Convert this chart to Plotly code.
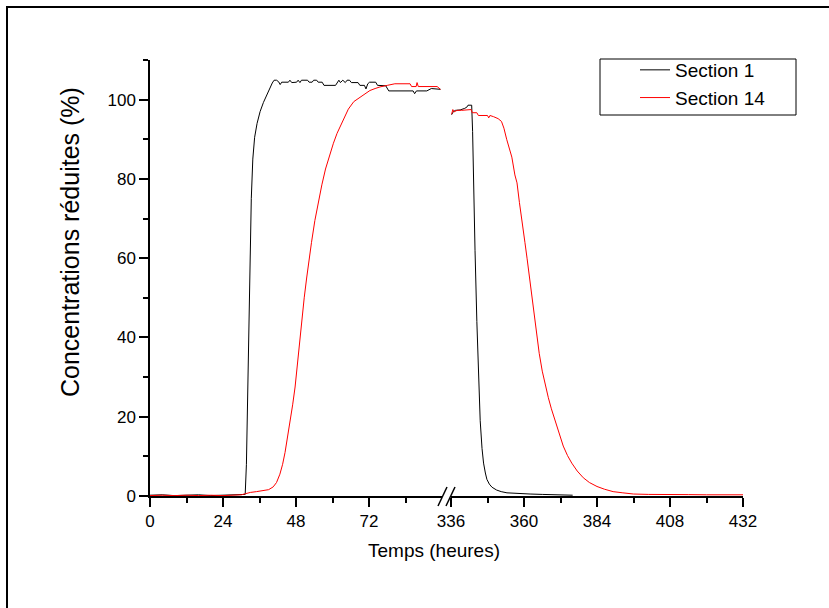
import plotly.graph_objects as go

# ---------------- data (hours, reduced concentration %) ----------------
s1_left_t = [0, 4, 8, 12, 16, 20, 24, 28, 30, 31.3,
             31.7, 32.1, 32.5, 32.9, 33.3, 33.8, 34.4, 35.2, 36.2, 37.3,
             38.2, 38.8, 39.5, 40.2, 40.8, 41.6, 42.3, 42.8, 43.3, 45.5,
             46.0, 46.6, 48.2, 48.7, 49.3, 49.8, 51.8, 52.3, 53.3, 53.8,
             54.8, 55.3, 56.6, 57.2, 61.0, 61.6, 62.1, 62.6, 63.4, 64.2,
             64.8, 65.6, 66.2, 68.4, 69.0, 70.5, 71.0, 71.6, 72.2, 74.2,
             74.8, 77.5, 78.5, 86.5, 87.0, 87.6, 91.0, 92.5, 95.5]
s1_left_v = [0.2, 0.3, 0.1, 0.2, 0.3, 0.1, 0.2, 0.3, 0.2, 0.4,
             8, 25, 45, 62, 75, 85, 90.5, 94, 97, 99.3,
             100.8, 102.2, 103.2, 104.2, 104.9, 104.9, 104.5, 103.8, 104.4, 104.4,
             104.9, 104.3, 104.4, 104.9, 104.3, 104.9, 104.9, 104.4, 104.4, 104.9,
             104.9, 104.4, 104.4, 103.6, 103.6, 104.3, 104.9, 104.3, 104.9, 104.3,
             104.9, 104.9, 104.3, 104.3, 103.6, 103.6, 102.7, 104.0, 104.4, 104.4,
             103.6, 103.5, 102.2, 102.2, 101.5, 102.2, 102.2, 102.8, 102.6]

s1_right_t = [336.2, 336.8, 337.5, 339.0, 340.5, 341.2, 341.6, 342.8, 343.1, 343.4,
              343.9, 344.5, 345.0, 345.6, 346.2, 346.7, 347.3, 347.8, 348.6, 349.5,
              351.0, 352.5, 354.4, 358.0, 362.0, 366.0, 370.0, 376.0]
s1_right_v = [96.2, 97.0, 97.3, 97.4, 97.8, 98.1, 98.6, 98.6, 92, 78,
              62, 44, 31, 19, 12, 8.3, 5.8, 4.2, 3.0, 2.2,
              1.5, 1.1, 0.8, 0.6, 0.5, 0.4, 0.3, 0.2]

s14_left_t = [0, 4, 8, 12, 16, 20, 24, 28, 30, 31.5,
              33, 35, 37, 39, 40.5, 41.6, 42.7, 43.6, 44.4, 45.2,
              46.0, 46.9, 47.7, 48.8, 49.9, 50.7, 51.5, 52.3, 53.1, 54.2,
              55.3, 56.5, 57.7, 59.0, 60.3, 61.5, 62.5, 63.8, 65.2, 67.0,
              69.0, 70.5, 72.3, 74.0, 75.6, 78.0, 80.5, 85.5, 86.0, 87.5,
              87.8, 88.2, 94.4, 95.5]
s14_left_v = [0.1, 0.2, 0.1, 0.2, 0.1, 0.2, 0.1, 0.2, 0.3, 0.6,
              0.9, 1.1, 1.3, 1.6, 2.3, 3.4, 5.5, 8, 11, 14.5,
              18.5, 23, 27.5, 36, 44.5, 50, 55, 60, 64, 69.5,
              74, 78.5, 82.5, 86, 89, 91.5, 93.2, 95.5, 97.6, 99.5,
              100.5, 101.3, 102.3, 102.8, 103.2, 103.6, 104.0, 104.0, 103.3, 103.3,
              104.3, 103.3, 103.3, 102.6]

s14_right_t = [336.2, 336.6, 337.0, 338.0, 339.5, 341.7, 342.6, 343.0, 344.5, 345.0,
               348.0, 348.4, 348.8, 350.0, 351.5, 352.6, 353.4, 354.3, 355.2, 356.0,
               357.0, 357.7, 358.5, 359.3, 360.3, 361.0, 361.8, 362.5, 363.3, 364.1,
               365.0, 366.0, 367.0, 368.0, 369.0, 370.2, 371.5, 372.9, 374.3, 375.7,
               377.5, 379.5, 381.5, 384.0, 386.5, 389.3, 392.5, 396.0, 401.0, 407.0,
               414.0, 420.0, 426.0, 432.0]
s14_right_v = [96.3, 97.5, 96.9, 97.3, 97.3, 97.5, 97.5, 96.7, 96.7, 96.0,
               96.0, 95.4, 96.0, 95.7, 95.2, 94.5, 92.8, 90, 87.3, 85.5,
               81, 79, 74, 70, 64, 60, 55, 50.5, 45.5, 41,
               36, 31.5, 28, 24.8, 22, 19, 15.8, 12.6, 10.2, 8.3,
               6.3, 4.6, 3.4, 2.4, 1.7, 1.1, 0.8, 0.5, 0.4, 0.3,
               0.35, 0.3, 0.35, 0.3]

x_left_ticks = [0, 24, 48, 72]
x_left_minor = [12, 36, 60, 84]
x_right_ticks = [336, 360, 384, 408, 432]
x_right_minor = [348, 372, 396, 420]
y_ticks = [0, 20, 40, 60, 80, 100]
y_minor = [10, 30, 50, 70, 90, 110]

series_names = ["Section 1", "Section 14"]
series_colors = ["#000000", "#FF0000"]

# ---------------- geometry (pixels) ----------------
W, H = 829, 608
L, R, T, B = 150, 86, 60, 112
PW, PH = W - L - R, H - T - B


def px(x):
    return (x - L) / PW


def py(y):
    return (H - B - y) / PH


FONT = "Arial, Liberation Sans, sans-serif"

fig = go.Figure()
segments = [
    (s1_left_t, s1_left_v, "x", 0, True),
    (s1_right_t, s1_right_v, "x2", 0, False),
    (s14_left_t, s14_left_v, "x", 1, True),
    (s14_right_t, s14_right_v, "x2", 1, False),
]
for t, v, xa, i, show in segments:
    fig.add_trace(go.Scatter(
        x=t, y=v, xaxis=xa, yaxis="y", mode="lines",
        line=dict(color=series_colors[i], width=1),
        name=series_names[i], legendgroup=series_names[i], showlegend=show,
    ))

axis_common = dict(
    showline=True, linecolor="black", linewidth=1.5,
    ticks="outside", ticklen=9, tickwidth=1.5, tickcolor="black",
    showgrid=False, zeroline=False,
    tickfont=dict(family=FONT, size=17, color="black"),
)

fig.update_layout(
    width=W, height=H,
    margin=dict(l=L, r=R, t=T, b=B, autoexpand=False),
    paper_bgcolor="white", plot_bgcolor="white",
    font=dict(family=FONT, color="black"),
    xaxis=dict(domain=[0, px(442)], range=[0, 96], anchor="y",
               tickmode="array", tickvals=x_left_ticks,
               minor=dict(tickmode="array", tickvals=x_left_minor, ticks="outside",
                          ticklen=5, tickwidth=1.5, tickcolor="black"),
               **axis_common),
    xaxis2=dict(domain=[px(451), 1], range=[336, 432], anchor="y",
                tickmode="array", tickvals=x_right_ticks,
                minor=dict(tickmode="array", tickvals=x_right_minor, ticks="outside",
                           ticklen=5, tickwidth=1.5, tickcolor="black"),
                **axis_common),
    yaxis=dict(range=[0, 110], anchor="x",
               tickmode="array", tickvals=y_ticks,
               minor=dict(tickmode="array", tickvals=y_minor, ticks="outside",
                          ticklen=5, tickwidth=1.5, tickcolor="black"),
               **axis_common),
    legend=dict(x=px(635), y=py(51), xanchor="left", yanchor="top",
                bgcolor="rgba(0,0,0,0)", borderwidth=0,
                font=dict(family=FONT, size=19, color="black"),
                tracegroupgap=0),
    showlegend=True,
)

fig.add_annotation(text="Temps (heures)", xref="paper", yref="paper",
                   x=px(434), y=py(550), xanchor="center", yanchor="middle",
                   showarrow=False, font=dict(family=FONT, size=19, color="black"))
fig.add_annotation(text="Concentrations réduites (%)", xref="paper", yref="paper",
                   x=px(70), y=py(242), xanchor="center", yanchor="middle",
                   textangle=-90, showarrow=False,
                   font=dict(family=FONT, size=25, color="black"))

shapes = [
    # outer frame
    dict(type="rect", xref="paper", yref="paper", x0=px(7), x1=px(850),
         y0=py(640), y1=py(7), line=dict(color="black", width=2)),
    # legend box
    dict(type="rect", xref="paper", yref="paper", x0=px(600), x1=px(796),
         y0=py(115), y1=py(59), line=dict(color="black", width=1)),
    # axis break marks
    dict(type="line", xref="paper", yref="paper", x0=px(438), y0=py(506),
         x1=px(447), y1=py(487), line=dict(color="black", width=1.5)),
    dict(type="line", xref="paper", yref="paper", x0=px(446), y0=py(506),
         x1=px(455), y1=py(487), line=dict(color="black", width=1.5)),
]
fig.update_layout(shapes=shapes)

fig.write_html("out.html")
